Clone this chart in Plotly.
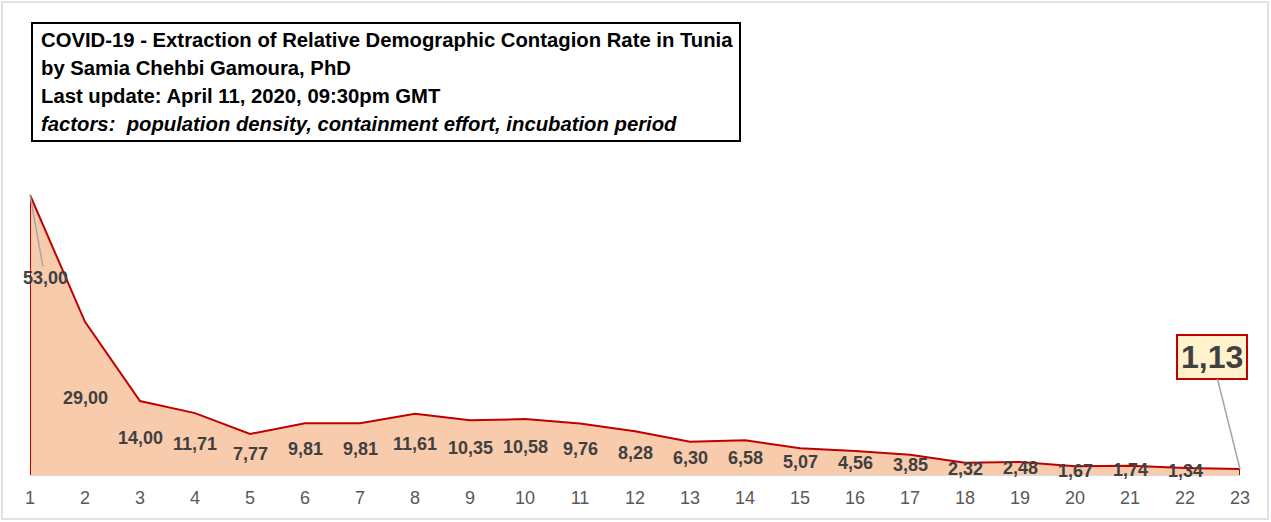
import plotly.graph_objects as go

days = list(range(1, 24))
rates = [53.00, 29.00, 14.00, 11.71, 7.77, 9.81, 9.81, 11.61, 10.35, 10.58, 9.76, 8.28,
         6.30, 6.58, 5.07, 4.56, 3.85, 2.32, 2.48, 1.67, 1.74, 1.34, 1.13]
title_lines = [
    "<b>COVID-19 - Extraction of Relative Demographic Contagion Rate in Tunia</b>",
    "<b>by Samia Chehbi Gamoura, PhD</b>",
    "<b>Last update: April 11, 2020, 09:30pm GMT</b>",
    "<b><i>factors:  population density, containment effort, incubation period</i></b>",
]

W, H = 1271, 522
ML, MR, MT, MB = 30, 31, 158, 47
PW, PH = W - ML - MR, H - MT - MB
FONT = "Liberation Sans Narrow, Arial Narrow, sans-serif"


def px2paper(x, y):
    return (x - ML) / PW, (H - MB - y) / PH


def fmt(v):
    return f"{v:.2f}".replace(".", ",")


fig = go.Figure()
fig.add_trace(go.Scatter(
    x=[days[0]] + days + [days[-1]],
    y=[0] + rates + [0],
    mode="lines",
    fill="tozeroy",
    fillcolor="#F8CBAD",
    line=dict(color="#C00000", width=2),
    hoverinfo="skip",
))

annotations = []
# data labels (centre of area), except first and last
for d, v in zip(days[1:-1], rates[1:-1]):
    annotations.append(dict(
        x=d, y=v / 2, xref="x", yref="y", text=f"<b>{fmt(v)}</b>", showarrow=False,
        font=dict(family=FONT, size=18, color="#404040"),
    ))
# first label with leader line
annotations.append(dict(
    x=days[0], y=rates[0], xref="x", yref="y", text=f"<b>{fmt(rates[0])}</b>",
    showarrow=True, arrowhead=0, arrowwidth=1.5, arrowcolor="#A6A6A6",
    ax=15, ay=83, font=dict(family=FONT, size=18, color="#404040"),
))
# last value callout
annotations.append(dict(
    x=days[-1], y=rates[-1], xref="x", yref="y", text=f"<b>{fmt(rates[-1])}</b>",
    showarrow=True, arrowhead=0, arrowwidth=1.5, arrowcolor="#A6A6A6",
    ax=-28, ay=-112, font=dict(family=FONT, size=32, color="#404040"),
    bgcolor="#FFF2CC", bordercolor="#C00000", borderwidth=2, borderpad=3,
))
# title lines
for i, t in enumerate(title_lines):
    xp, yp = px2paper(39, 40 + i * 28)
    annotations.append(dict(
        x=xp, y=yp, xref="paper", yref="paper", text=t, showarrow=False,
        xanchor="left", yanchor="middle", align="left",
        font=dict(family=FONT, size=20.3, color="#000000"),
    ))

x0, y0 = px2paper(32, 23)
x1, y1 = px2paper(740, 141)
bx0, by0 = px2paper(2, 2)
bx1, by1 = px2paper(1268, 519)
shapes = [
    dict(type="rect", xref="paper", yref="paper", x0=bx0, y0=by0, x1=bx1, y1=by1,
         line=dict(color="#D9D9D9", width=1.5), fillcolor="rgba(0,0,0,0)", layer="below"),
    dict(type="rect", xref="paper", yref="paper", x0=x0, y0=y0, x1=x1, y1=y1,
         line=dict(color="#000000", width=2), fillcolor="#FFFFFF"),
]

fig.update_layout(
    width=W, height=H,
    margin=dict(l=ML, r=MR, t=MT, b=MB),
    paper_bgcolor="white", plot_bgcolor="white",
    showlegend=False,
    annotations=annotations,
    shapes=shapes,
    xaxis=dict(range=[1, 23], tickmode="array", tickvals=days, ticktext=[str(d) for d in days],
               showgrid=False, zeroline=False, showline=True, linecolor="#D9D9D9", linewidth=1,
               ticks="", tickfont=dict(family=FONT, size=18, color="#595959"),
               ticklabelstandoff=6),
    yaxis=dict(range=[0, 60], visible=False, showgrid=False, zeroline=False),
)

fig.write_html("out.html", config={"displayModeBar": False},
               post_script="document.body.style.margin='0';")
